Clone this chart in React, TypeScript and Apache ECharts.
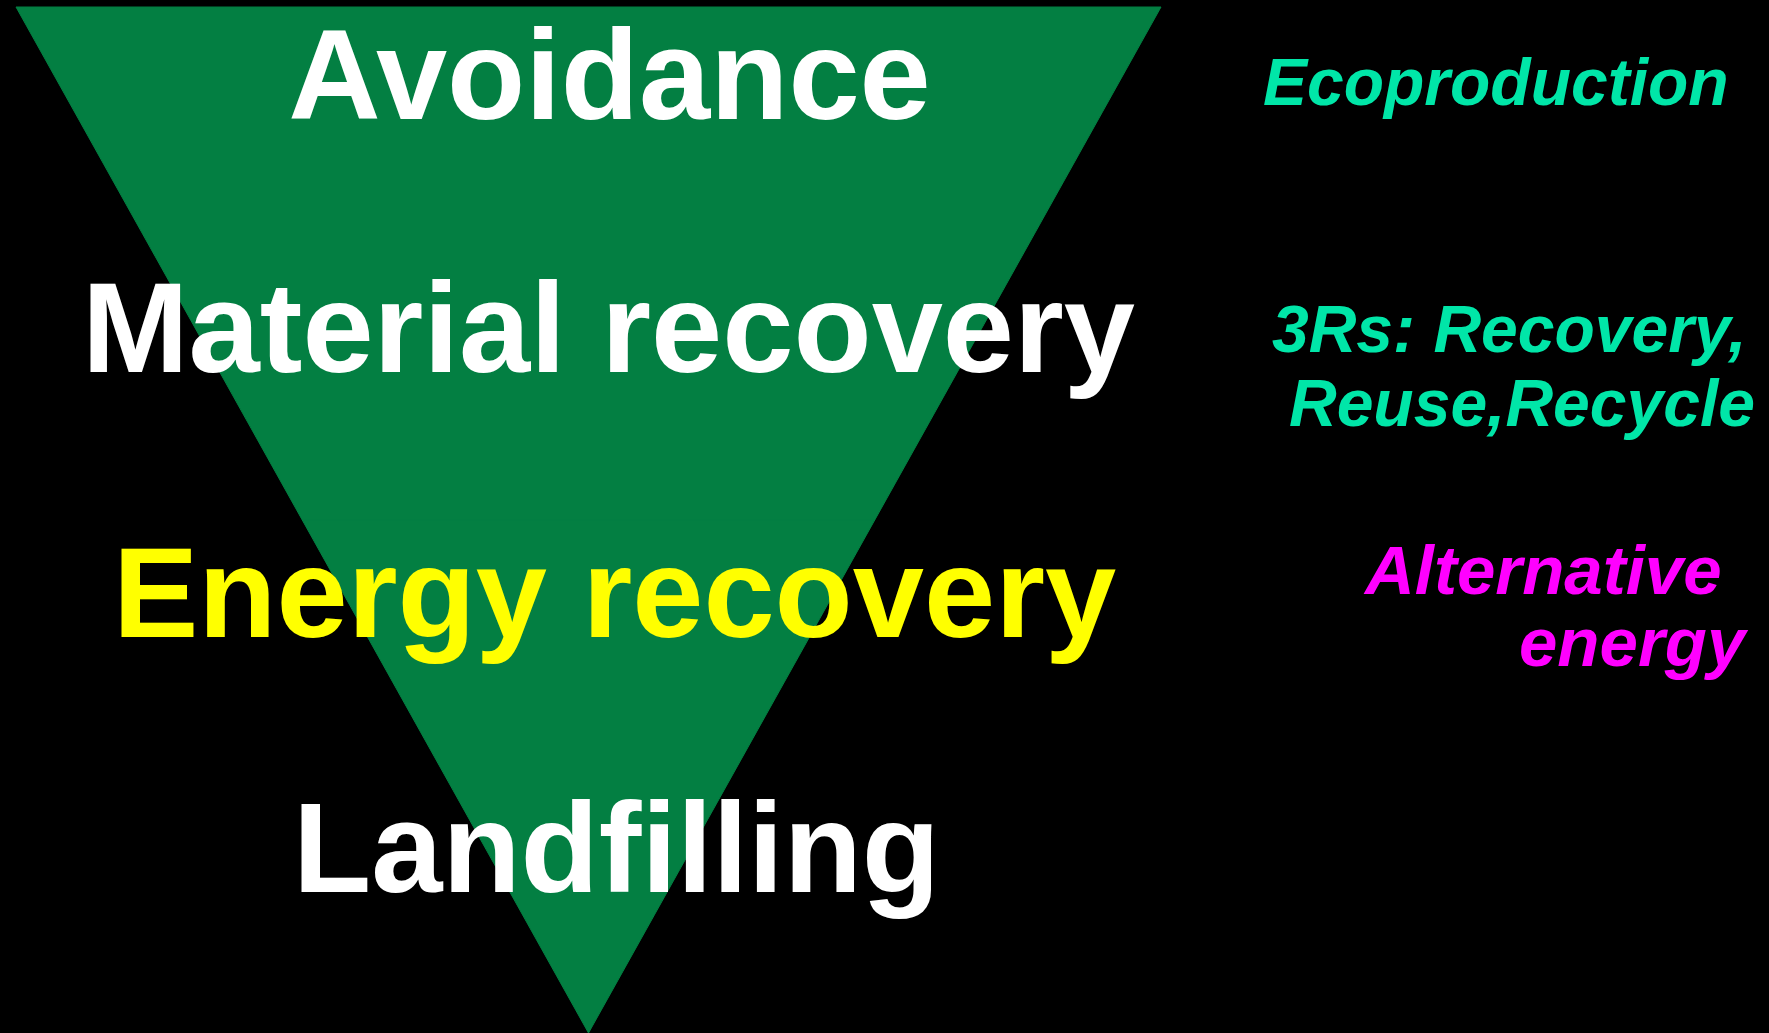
import React, { useEffect, useRef } from "react";
import * as echarts from "echarts";

// Hierarchy levels (top = widest)
const levels = ["Avoidance", "Material recovery", "Energy recovery", "Landfilling"];
const levelValues = [4, 3, 2, 1];
const levelColors = ["#ffffff", "#ffffff", "#ffff00", "#ffffff"];
// label anchor: centre x and text baseline y
const levelLabelX = [609.5, 608.5, 614.5, 616.5];
const levelBaseline = [119, 372, 637, 892];

// Side annotations
const notes = ["Ecoproduction", "3Rs: Recovery,", "Reuse,Recycle", "Alternative", "energy"];
const noteColors = ["#00e6a8", "#00e6a8", "#00e6a8", "#ff00ff", "#ff00ff"];
const noteSizes = [66, 66, 66, 69, 69];
const noteX = [1263, 1272, 1289, 1365, 1519];
const noteBaseline = [105, 352, 426, 594, 666];

const FONT = "'Liberation Sans', Arial, Helvetica, sans-serif";
const MAIN_SIZE = 128;

export default function App() {
  const ref = useRef<HTMLDivElement>(null);
  useEffect(() => {
    if (!ref.current) return;
    const chart = echarts.init(ref.current, undefined, { renderer: "svg" });
    const mainTexts = levels.map((t, i) => ({
      type: "text",
      x: levelLabelX[i],
      y: levelBaseline[i] - 0.3465 * MAIN_SIZE,
      silent: true,
      z: 10,
      style: {
        text: t,
        fill: levelColors[i],
        font: `bold ${MAIN_SIZE}px ${FONT}`,
        textAlign: "center",
        textVerticalAlign: "middle",
      },
    }));
    const sideTexts = notes.map((t, i) => ({
      type: "text",
      x: noteX[i],
      y: noteBaseline[i] - 0.3465 * noteSizes[i],
      silent: true,
      z: 10,
      style: {
        text: t,
        fill: noteColors[i],
        font: `italic bold ${noteSizes[i]}px ${FONT}`,
        textAlign: "left",
        textVerticalAlign: "middle",
      },
    }));
    chart.setOption({
      animation: false,
      backgroundColor: "#000000",
      series: [
        {
          type: "funnel",
          left: 16,
          top: 7,
          width: 1145,
          height: 1026,
          min: 0,
          max: 4,
          minSize: "0%",
          maxSize: "100%",
          sort: "descending",
          gap: 0,
          silent: true,
          itemStyle: { color: "#037f42", borderColor: "#037f42", borderWidth: 1 },
          label: { show: false },
          labelLine: { show: false },
          data: levels.map((name, i) => ({ name, value: levelValues[i] })),
        },
      ],
      graphic: [...mainTexts, ...sideTexts],
    });
    return () => chart.dispose();
  }, []);
  return (
    <div
      ref={ref}
      style={{ position: "fixed", left: 0, top: 0, width: 1769, height: 1033, background: "#000" }}
    />
  );
}
